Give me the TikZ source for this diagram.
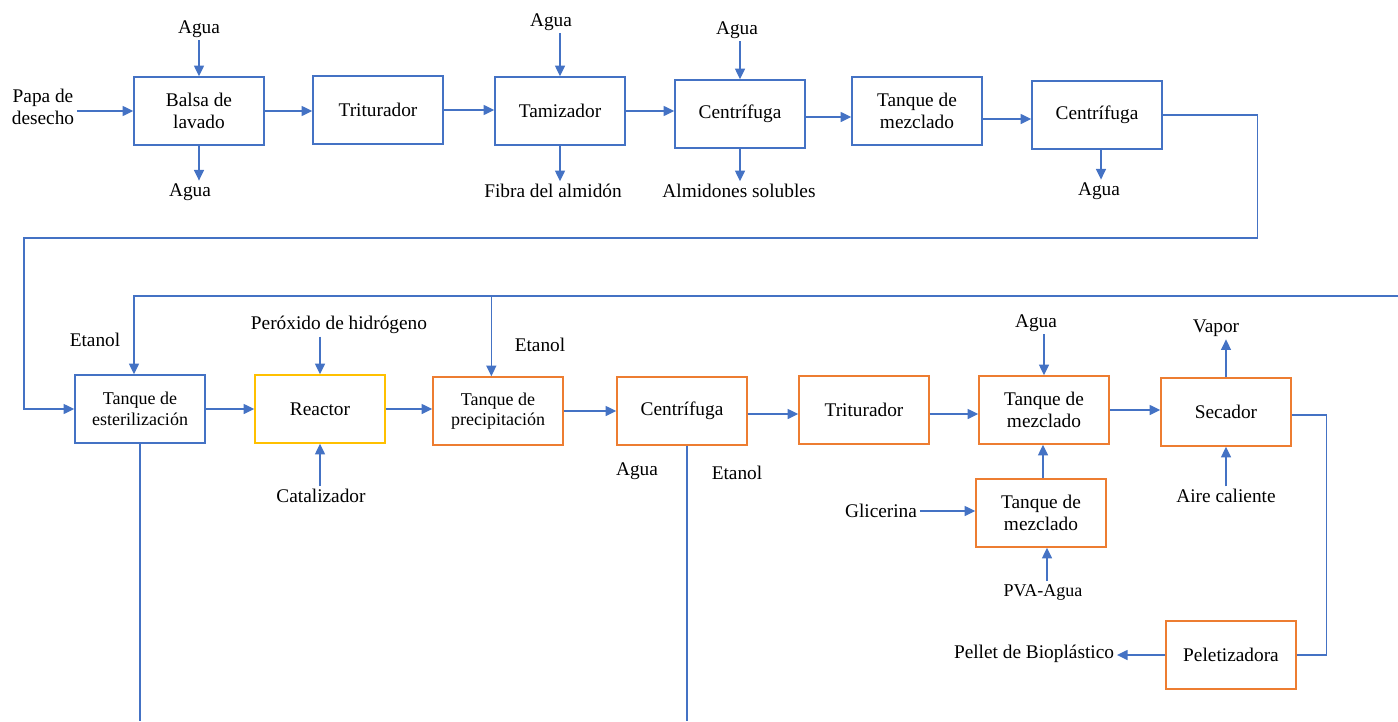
\documentclass[tikz,border=0pt]{standalone}
\usepackage{fontspec}
\setmainfont{Liberation Serif}
\newfontfamily\tnr{Liberation Serif}
\usetikzlibrary{arrows.meta}
\definecolor{lineblue}{HTML}{4472C4}
\definecolor{boxorange}{HTML}{ED7D31}
\definecolor{boxyellow}{HTML}{FFC000}
\begin{document}
\begin{tikzpicture}[
    x=0.75pt, y=-0.75pt,
    every node/.style={font=\tnr\fontsize{14.5}{17}\selectfont, align=center, inner sep=2pt},
    smalltxt/.style={font=\tnr\fontsize{13.5}{15.5}\selectfont},
    box/.style={rectangle, draw=lineblue, line width=1.1pt, minimum width=97.5pt, minimum height=51pt},
    obox/.style={box, draw=boxorange},
    ybox/.style={box, draw=boxyellow},
    arr/.style={-{Triangle[length=8pt,width=7.5pt]}, line width=1pt, lineblue},
    pipe/.style={line width=1pt, lineblue}
]
\useasboundingbox (0,0) rectangle (1398,721);
\coordinate (etin) at (1398,296);
\coordinate (bot) at (0,721);

\node[box] (balsa) at (199,111) {Balsa de\\lavado};
\node[box] (trit1) at (378,110) {Triturador};
\node[box] (tamiz) at (560,111) {Tamizador};
\node[box] (cen1)  at (740,114) {Centrífuga};
\node[box] (mez1)  at (917,111) {Tanque de\\mezclado};
\node[box] (cen2)  at (1097,115) {Centrífuga};

\node (papa)  at (43,107)  {Papa de\\desecho};
\node (agua1) at (199,29)  {Agua};
\node (agua2) at (190,192) {Agua};
\node (agua3) at (551,22)  {Agua};
\node (fibra) at (553,191) {Fibra del almidón};
\node (agua4) at (737,30)  {Agua};
\node (almid) at (739,191) {Almidones solubles};
\node (agua5) at (1099,191) {Agua};

\node[box, smalltxt] (ester) at (140,409) {Tanque de\\esterilización};
\node[ybox] (reac) at (320,409) {Reactor};
\node[obox, smalltxt] (prec) at (498,411) {Tanque de\\precipitación};
\node[obox] (cen3)  at (682,411)  {Centrífuga};
\node[obox] (trit2) at (864,410)  {Triturador};
\node[obox] (mez2)  at (1044,410) {Tanque de\\mezclado};
\node[obox] (sec)   at (1226,412) {Secador};
\node[obox] (mez3)  at (1041,513) {Tanque de\\mezclado};
\node[obox] (pel)   at (1231,655) {Peletizadora};

\node (etan1)  at (95,340)   {Etanol};
\node (perox)  at (339,325)  {Peróxido de hidrógeno};
\node (catal)  at (321,496)  {Catalizador};
\node (etan2)  at (540,345)  {Etanol};
\node (agua6)  at (637,471)  {Agua};
\node (etan3)  at (737,473)  {Etanol};
\node (agua7)  at (1036,323) {Agua};
\node (vapor)  at (1216,328) {Vapor};
\node (aire)   at (1226,496) {Aire caliente};
\node (glic)   at (881,511)  {Glicerina};
\node[smalltxt] (pva) at (1043,592) {PVA-Agua};
\node (pellet) at (1034,654) {Pellet de Bioplástico};

\draw[arr] (papa.east |- balsa) -- (balsa.west);
\draw[arr] (agua1.south -| balsa.north) -- (balsa.north);
\draw[arr] (balsa.south) -- (balsa.south |- agua2.north);
\draw[arr] (balsa.east) -- (balsa.east -| trit1.west);
\draw[arr] (trit1.east) -- (trit1.east -| tamiz.west);
\draw[arr] (agua3.south -| tamiz.north) -- (tamiz.north);
\draw[arr] (tamiz.south) -- (tamiz.south |- fibra.north);
\draw[arr] (tamiz.east) -- (tamiz.east -| cen1.west);
\draw[arr] (agua4.south -| cen1.north) -- (cen1.north);
\draw[arr] (cen1.south) -- (cen1.south |- almid.north);
\draw[arr] ([yshift=-2.25pt]cen1.east) -- ([yshift=-2.25pt]cen1.east -| mez1.west);
\draw[arr] ([yshift=-6pt]mez1.east) -- ([yshift=-6pt]mez1.east -| cen2.west);
\draw[arr] ([xshift=3pt]cen2.south) -- ([xshift=3pt]cen2.south |- agua5.north);
\draw[arr] (cen2.east) -- ++(95,0) |- (24,238) |- (ester.west);

\draw[arr] (etin) -| ([xshift=-4.5pt]ester.north);
\draw[arr] ([xshift=-5pt]prec.north |- etin) -- ([xshift=-5pt]prec.north);
\draw[arr] (ester.east) -- (ester.east -| reac.west);
\draw[arr] (perox.south -| reac.north) -- (reac.north);
\draw[arr] (catal.north -| reac.south) -- (reac.south);
\draw[arr] (reac.east) -- (reac.east -| prec.west);
\draw[arr] (prec.east) -- (prec.east -| cen3.west);
\draw[arr] ([yshift=-2.25pt]cen3.east) -- ([yshift=-2.25pt]cen3.east -| trit2.west);
\draw[arr] ([yshift=-3pt]trit2.east) -- ([yshift=-3pt]trit2.east -| mez2.west);
\draw[arr] (agua7.south -| mez2.north) -- (mez2.north);
\draw[arr] (mez2.east) -- (mez2.east -| sec.west);
\draw[arr] (sec.north) -- (sec.north |- vapor.south);
\draw[arr] (aire.north -| sec.south) -- (sec.south);
\draw[arr] (glic.east) -- (glic.east -| mez3.west);
\draw[arr] ([xshift=1.5pt]mez3.north) -- ([xshift=1.5pt]mez3.north |- mez2.south);
\draw[arr] ([xshift=3pt]pva.north) -- ([xshift=3pt]pva.north |- mez3.south);
\draw[pipe] ([yshift=-2.25pt]sec.east) -- ++(35,0) |- (pel.east);
\draw[arr] (pel.west) -- (pel.west -| pellet.east);

\draw[pipe] (ester.south) -- (ester.south |- bot);
\draw[pipe] ([xshift=3.75pt]cen3.south) -- ([xshift=3.75pt]cen3.south |- bot);
\end{tikzpicture}
\end{document}
